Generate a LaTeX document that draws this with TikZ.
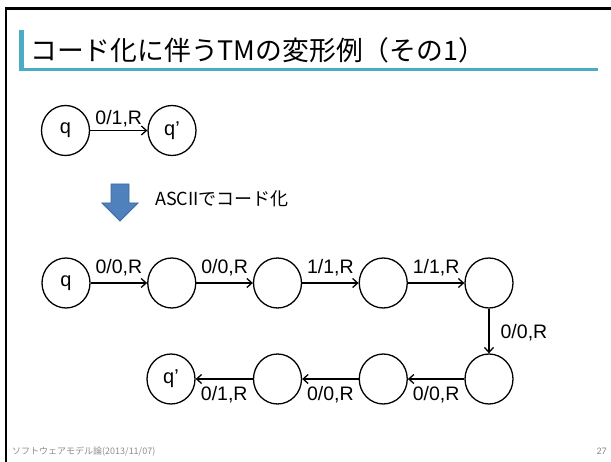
\documentclass[tikz,border=0pt]{standalone}
\usepackage{fontspec}
\setmainfont{Liberation Sans}
\newfontfamily\jpfont{Noto Sans CJK JP}
\newfontfamily\pgfont{Carlito}
\usetikzlibrary{arrows.meta,shapes.geometric}
\definecolor{titleblue}{HTML}{4BACC6}
\definecolor{arrowblue}{HTML}{4F81BD}
\definecolor{arrowedge}{HTML}{3A6A9E}
\definecolor{footgray}{HTML}{8C8C8C}
\begin{document}
\begin{tikzpicture}[x=1pt,y=-1pt,
  state/.style={ellipse, draw, line width=1.3pt, minimum width=48pt, minimum height=50pt, inner sep=0pt, font=\fontsize{20}{20}\selectfont},
  trans/.style={line width=1.3pt, -{Straight Barb[length=5pt,width=9pt]}},
  lbl/.style={font=\fontsize{19.5}{20}\selectfont, inner sep=0pt, anchor=base},
]
\useasboundingbox (0,0) rectangle (611,462);
% slide frame
\draw[line width=3pt] (5,8.5) -- (611,8.5);
\draw[line width=2.5pt] (6.2,7) -- (6.2,462);
% title
\fill[titleblue] (19,30) rectangle (24,71);
\fill[titleblue] (19,68) rectangle (598,71);
\node[anchor=base west, inner sep=0pt, font=\jpfont\fontsize{26.8}{27}\selectfont] (title) at (30,61) {コード化に伴うTMの変形例（その1）};
% top diagram
\node[state] (a) at (65.5,130.5) {q};
\node[state] (b) at (172,130.5) {q'};
\draw[trans] (a) -- (b) node[lbl, midway, yshift=6pt] {0/1,R};
% blue arrow
\draw[fill=arrowblue, draw=arrowedge, line width=0.8pt]
  (111,184) -- (129,184) -- (129,203) -- (138,203) -- (120,221) -- (102,203) -- (111,203) -- cycle;
\node[anchor=west, inner sep=0pt, font=\jpfont\fontsize{18}{18}\selectfont] (ascii) at (155,199) {ASCIIでコード化};
% bottom diagram row 1
\node[state] (s0) at (66,283) {q};
\node[state] (s1) at (171.75,283) {};
\node[state] (s2) at (277.5,283) {};
\node[state] (s3) at (383.25,283) {};
\node[state] (s4) at (489,283) {};
% row 2
\node[state] (s5) at (489,379) {};
\node[state] (s6) at (383.25,379) {};
\node[state] (s7) at (277.5,379) {};
\node[state] (s8) at (171,379) {q'};
\draw[trans] (s0) -- (s1) node[lbl, midway, yshift=9pt] {0/0,R};
\draw[trans] (s1) -- (s2) node[lbl, midway, yshift=9pt] {0/0,R};
\draw[trans] (s2) -- (s3) node[lbl, midway, yshift=9pt] {1/1,R};
\draw[trans] (s3) -- (s4) node[lbl, midway, yshift=9pt] {1/1,R};
\draw[trans] (s4) -- (s5) node[lbl, anchor=base west, midway, xshift=11pt, yshift=-7.5pt] {0/0,R};
\draw[trans] (s5) -- (s6) node[lbl, midway, yshift=-22pt] {0/0,R};
\draw[trans] (s6) -- (s7) node[lbl, midway, yshift=-22pt] {0/0,R};
\draw[trans] (s7) -- (s8) node[lbl, midway, yshift=-22pt] {0/1,R};
% footer
\node[anchor=base west, inner sep=0pt, text=footgray, font=\jpfont\fontsize{9}{9}\selectfont] (foot) at (12,455) {ソフトウェアモデル論(2013/11/07)};
\node[anchor=base east, inner sep=0pt, text=footgray, font=\pgfont\fontsize{10}{10}\selectfont] (pg) at (607,455) {27};
\end{tikzpicture}
\end{document}
